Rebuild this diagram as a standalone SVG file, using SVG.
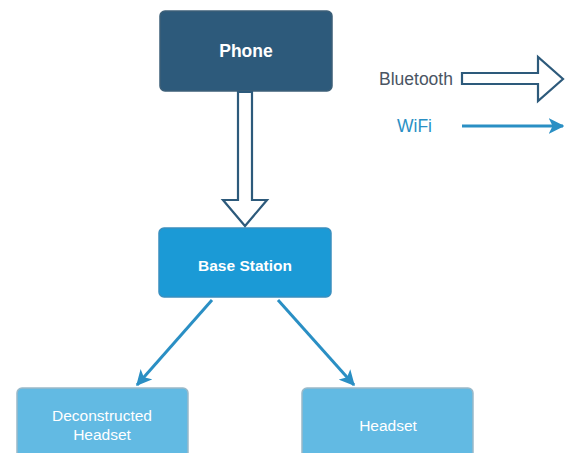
<svg xmlns="http://www.w3.org/2000/svg" width="565" height="453" viewBox="0 0 565 453">
<defs>
<marker id="ah" viewBox="0 0 12 12" refX="11" refY="6" markerWidth="5.2" markerHeight="5.2" orient="auto" markerUnits="strokeWidth">
<path d="M0,0 L12,6 L0,12 L3,6 Z" fill="#2a8fc4"/>
</marker>
</defs>
<style>
.lbl{font-family:"Liberation Sans",Arial,Helvetica,sans-serif;fill:#fff;text-anchor:middle}
.b{font-weight:bold}
.node rect{stroke-width:1.5}
.conn{stroke:#2a8fc4;stroke-width:3;fill:none}
.hollow{fill:#fff;stroke:#2d5a7b;stroke-width:2.2;stroke-linejoin:miter}
</style>
<rect width="565" height="453" fill="#fff"/>
<g id="phone" class="node">
<rect x="160" y="11" width="172" height="80" rx="5" fill="#2d5a7b" stroke="#3c5f78"/>
<text class="lbl b" x="246" y="57" font-size="17.5">Phone</text>
</g>
<g id="base-station" class="node">
<rect x="159" y="228" width="172" height="69" rx="5" fill="#1b9ad6" stroke="#3a8fbf"/>
<text class="lbl b" x="245" y="271" font-size="15.5">Base Station</text>
</g>
<g id="deconstructed-headset" class="node">
<rect x="17" y="388" width="171" height="80" rx="5" fill="#62bae3" stroke="#9ab9c9"/>
<text class="lbl" x="102" y="421" font-size="15.5">Deconstructed</text>
<text class="lbl" x="102" y="440" font-size="15.5">Headset</text>
</g>
<g id="headset" class="node">
<rect x="302" y="388" width="171" height="80" rx="5" fill="#62bae3" stroke="#9ab9c9"/>
<text class="lbl" x="388" y="431" font-size="15.5">Headset</text>
</g>
<g id="connectors">
<path class="hollow" d="M238,92 L252,92 L252,200 L267,200 L245,226 L223,200 L238,200 Z"/>
<line class="conn" x1="212" y1="300" x2="137" y2="385" marker-end="url(#ah)"/>
<line class="conn" x1="278" y1="300" x2="354" y2="385" marker-end="url(#ah)"/>
</g>
<g id="legend">
<text x="379" y="85" font-family="Liberation Sans,Arial,sans-serif" font-size="17.5" fill="#4a5563">Bluetooth</text>
<path class="hollow" d="M462,73 L538,73 L538,57 L563,79 L538,101 L538,84 L462,84 Z"/>
<text x="397" y="132" font-family="Liberation Sans,Arial,sans-serif" font-size="17.5" fill="#2a8fc4">WiFi</text>
<line class="conn" x1="462" y1="126" x2="563" y2="126" stroke-width="2.5" marker-end="url(#ah)"/>
</g>
</svg>
